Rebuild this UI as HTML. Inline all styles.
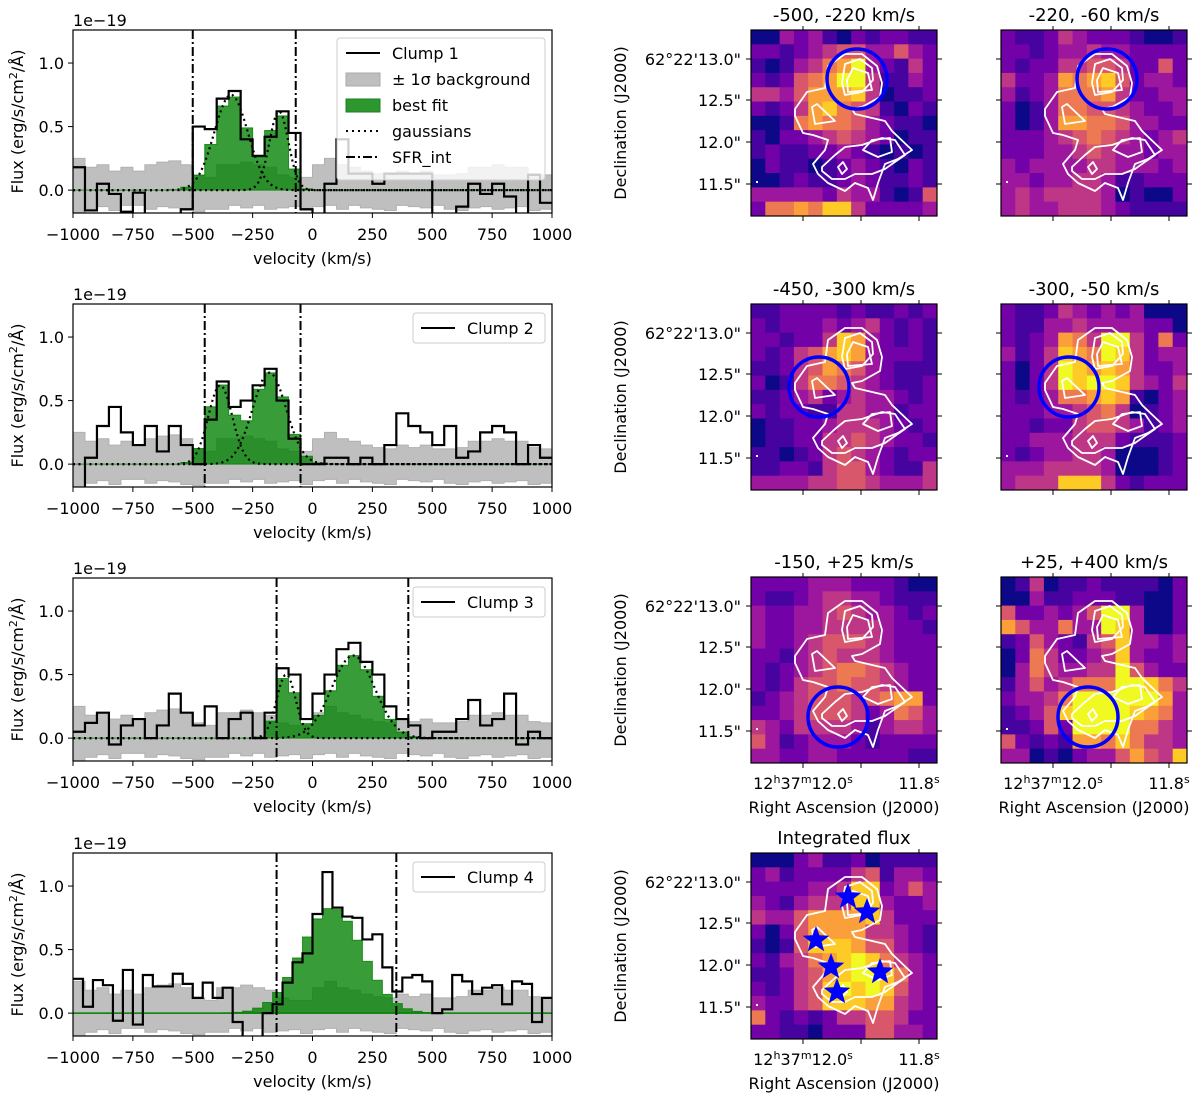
<!DOCTYPE html>
<html><head><meta charset="utf-8">
<style>
body{margin:0;background:#fff;}
svg{display:block;font-family:"DejaVu Sans","Liberation Sans",sans-serif;}
</style></head>
<body>
<svg id="fig" width="1200" height="1099" viewBox="0 0 1200 1099" xmlns="http://www.w3.org/2000/svg"></svg>
<script>
// ---- spectra data ----
const velMin = -1000, velMax = 1000;
const clump1Flux = [0.18,-0.16,0.05,-0.03,-0.17,-0.02,-0.2,-0.2,-0.2,-0.15,0.5,0.48,0.72,0.78,0.4,0.27,0.42,0.62,0.45,-0.15,-0.2,0.05,0.4,0.13,0.13,0.05,0.13,0.13,0.13,0.13,-0.2,-0.2,-0.13,0.05,-0.03,0.05,-0.05,-0.2,0.12,-0.1];
const clump2Flux = [-0.2,0.05,0.3,0.45,0.25,0.15,0.3,0.1,0.3,0.15,0.0,0.35,0.65,0.45,0.5,0.62,0.75,0.5,0.2,0.0,0.0,0.05,0.05,0.0,0.05,0.0,0.15,0.4,0.3,0.25,0.15,0.3,0.05,0.1,0.25,0.3,0.25,0.0,0.15,0.05];
const clump3Flux = [0.05,0.12,0.2,-0.05,0.1,0.15,0.0,0.1,0.35,0.2,0.1,0.25,0.0,0.15,0.2,0.0,0.2,0.55,0.5,0.15,0.35,0.5,0.7,0.75,0.6,0.5,0.25,0.15,0.1,0.0,0.05,0.05,0.15,0.3,0.1,0.15,0.35,-0.05,0.05,0.0];
const clump4Flux = [0.27,0.05,0.26,0.22,-0.06,0.34,-0.09,0.3,0.21,0.21,0.31,0.23,0.12,0.24,0.12,0.2,-0.07,-0.25,-0.25,0.0,0.07,0.24,0.4,0.47,0.78,1.11,0.83,0.76,0.75,0.58,0.62,0.36,0.17,0.28,0.3,0.25,0.0,0.03,0.3,0.25,0.15,0.2,0.22,0.07,0.25,0.23,-0.07,0.12];
const bgUpper = [0.25,0.18,0.2,0.15,0.18,0.15,0.2,0.22,0.23,0.2,0.12,0.1,0.2,0.2,0.22,0.2,0.18,0.12,0.1,0.1,0.2,0.25,0.2,0.18,0.15,0.13,0.12,0.15,0.13,0.15,0.12,0.12,0.13,0.18,0.18,0.2,0.18,0.18,0.13,0.12];
const bgLower = [-0.2,-0.15,-0.13,-0.16,-0.12,-0.12,-0.15,-0.13,-0.14,-0.16,-0.17,-0.15,-0.15,-0.12,-0.14,-0.12,-0.15,-0.14,-0.13,-0.16,-0.13,-0.12,-0.15,-0.12,-0.14,-0.15,-0.16,-0.12,-0.13,-0.14,-0.12,-0.15,-0.16,-0.14,-0.13,-0.15,-0.14,-0.13,-0.16,-0.15];
// gaussian components: [amp, center, sigma]
const clump1Gauss = [[0.75,-340,70],[0.62,-140,40]];
const clump2Gauss = [[0.62,-385,50],[0.72,-180,70]];
const clump3Gauss = [[0.5,-110,40],[0.65,170,90]];
const clump4Gauss = [[0.83,80,125]];
const sfrLimits = [[-500,-70],[-450,-50],[-150,400],[-150,350]];
const clumpNames = ["Clump 1","Clump 2","Clump 3","Clump 4"];
const xTicks = [-1000,-750,-500,-250,0,250,500,750,1000];
const yTicks = [0.0,0.5,1.0];

// ---- map data (13x13, plasma levels 0-9) ----
const mapTitles = ["-500, -220 km/s","-220, -60 km/s","-450, -300 km/s","-300, -50 km/s","-150, +25 km/s","+25, +400 km/s","Integrated flux"];
const map1 = ["0032310212211","2212345533532","1013467932142","2125679941132","4435777840112","2124786541021","0016766532110","1022345432011","1211223210101","0211012321021","0012112321121","3333324331015","2667688422223"];
const map2 = ["2112432221001","2212334332222","2122445542252","4223767852332","3123666742233","2013665543223","2013776653322","2223456543234","2223345433233","3233334433323","3323344311222","3434444301002","3433444321111"];
const map3 = ["1122221211212","2122232342121","2212248732121","2124578732221","1124576532111","2014665432112","1123423433212","2122114433122","0112234443212","0112244543221","1101245432122","1122145532114","3333445543334"];
const map4 = ["2112432323000","2113343333220","2123764994262","3124876984233","2024987874223","2024989984324","2123667871023","2223345640123","2212245543123","2233344421112","2123344300012","3334444300012","3444888421222"];
const map5 = ["2222333222100","2112344332111","3223345433212","3223344443221","3223455543222","2213454443222","2123456654322","2124556554322","1234555456772","2234555423653","4324444313443","5312333212222","3322332222211"];
const map6 = ["0140112111102","0031122211002","5223235993002","7533633983002","1253214583323","0264223483223","0364334495322","1353466699864","2334699999973","1235899998763","1125299996643","5212177686443","3301023357548"];
const map7 = ["0002311201111","2312222451332","2222334882353","3213444883223","4335777784222","2025777744321","1015888755321","2134678986432","1124578998632","2124589898532","3224588877432","6212124455422","2211022255332"];
const circleCenters = [[106,49],[106,49],[68,83],[68,83],[87,140],[87,140]];
const starPositions = [[97,44],[116,59],[65,87],[80,114],[129,119],[86,139]];
const decTicks = ['62°22\'13.0"','12.5"','12.0"','11.5"'];
const decTickPos = [29,70,112,154];
const raTickPos = [52,110,168];

const NS="http://www.w3.org/2000/svg";
const svg=document.getElementById('fig');
function el(tag,attrs,parent){const e=document.createElementNS(NS,tag);for(const k in attrs)e.setAttribute(k,attrs[k]);(parent||svg).appendChild(e);return e;}
function txt(s,attrs,parent){const t=el('text',attrs,parent);t.textContent=s;return t;}

// ---- spectra ----
const SX0=73,SX1=552,SH=183,YMIN=-0.18,YMAX=1.26;
const specTops=[30,304,578,853];
const fluxes=[clump1Flux,clump2Flux,clump3Flux,clump4Flux];
const gausses=[clump1Gauss,clump2Gauss,clump3Gauss,clump4Gauss];
function sx(v){return SX0+(v-velMin)/(velMax-velMin)*(SX1-SX0);}
function gval(g,v){return g[0]*Math.exp(-0.5*Math.pow((v-g[1])/g[2],2));}
function stepPath(vals,ys){
  const n=vals.length,w=(velMax-velMin)/n;let d='';
  for(let i=0;i<n;i++){const a=sx(velMin+i*w),b=sx(velMin+(i+1)*w),y=ys(vals[i]);d+=(i?'L':'M')+a+','+y+'L'+b+','+y;}
  return d;
}
for(let p=0;p<4;p++){
  const top=specTops[p];
  const sy=v=>top+(YMAX-v)/(YMAX-YMIN)*SH;
  const g=el('g',{},svg);
  
  
  const cid='clip'+p;
  const cp=el('clipPath',{id:cid},g);el('rect',{x:SX0,y:top,width:SX1-SX0,height:SH},cp);
  const inner=el('g',{'clip-path':'url(#'+cid+')'},g);
  let up=stepPath(bgUpper,sy),n=bgLower.length,w=(velMax-velMin)/n,lo='';
  for(let i=n-1;i>=0;i--){const a=sx(velMin+(i+1)*w),b=sx(velMin+i*w),y=sy(bgLower[i]);lo+='L'+a+','+y+'L'+b+','+y;}
  const band=el('path',{d:up+lo+'Z',fill:'#bfbfbf',stroke:'#b0b0b0','stroke-width':1},inner);
  
  
  const nb=fluxes[p].length,bw=(velMax-velMin)/nb,fit=[];
  for(let i=0;i<nb;i++){const v=velMin+(i+0.5)*bw;let s=0;gausses[p].forEach(q=>s+=gval(q,v));fit.push(s);}
  let fd=stepPath(fit,sy);fd+='L'+sx(velMax)+','+sy(0)+'L'+sx(velMin)+','+sy(0)+'Z';
  const fitEl=el('path',{d:fd,fill:'#008000','fill-opacity':0.78,stroke:'#008000','stroke-opacity':0.8,'stroke-width':1},inner);
  
  
  if(p<3){
    gausses[p].forEach((q,k)=>{let d='';for(let v=velMin;v<=velMax;v+=5){d+=(v==velMin?'M':'L')+sx(v)+','+sy(gval(q,v));}
      const ge=el('path',{d:d,fill:'none',stroke:'#000','stroke-width':2.2,'stroke-dasharray':'2,3.5'},inner);
      
      });
  } else {
    el('line',{x1:SX0,x2:SX1,y1:sy(0),y2:sy(0),stroke:'#008000','stroke-width':1.5},inner);
  }
  const dl=el('path',{d:stepPath(fluxes[p],sy),fill:'none',stroke:'#000','stroke-width':2.2},inner);
  
  
  sfrLimits[p].forEach(v=>{const l=el('line',{x1:sx(v),x2:sx(v),y1:top,y2:top+SH,stroke:'#000','stroke-width':2,'stroke-dasharray':'9,3,2,3'},inner);
    
    });
  el('rect',{x:SX0,y:top,width:SX1-SX0,height:SH,fill:'none',stroke:'#000','stroke-width':1.2},g);
  xTicks.forEach(v=>{el('line',{x1:sx(v),x2:sx(v),y1:top+SH,y2:top+SH+5,stroke:'#000'},g);
    const t=txt(String(v).replace('-','\u2212'),{x:sx(v),y:top+SH+27,'text-anchor':'middle','font-size':16},g);
    
    });
  yTicks.forEach(v=>{el('line',{x1:SX0-5,x2:SX0,y1:sy(v),y2:sy(v),stroke:'#000'},g);
    const t=txt(v.toFixed(1),{x:SX0-9,y:sy(v)+6,'text-anchor':'end','font-size':16},g);
    
    });
  const xt=txt('velocity (km/s)',{x:(SX0+SX1)/2,y:top+SH+51,'text-anchor':'middle','font-size':16},g);
  
  
  const off=txt('1e\u221219',{x:SX0,y:top-4,'font-size':16},g);
  
  
  const yt=el('text',{x:0,y:0,'text-anchor':'middle','font-size':16,transform:'translate(23,'+(top+SH/2)+') rotate(-90)'},g);
  yt.innerHTML='Flux (erg/s/cm<tspan dy="-6" font-size="11">2</tspan><tspan dy="6">/Å)</tspan>';
  
  
  const lg=el('g',{},g);
  
  
  if(p==0){
    el('rect',{x:337,y:38,width:208,height:142,rx:3,fill:'#fff','fill-opacity':0.8,stroke:'#ccc'},lg);
    const ys=[53,79,105,131,157];
    el('line',{x1:346,x2:380,y1:ys[0],y2:ys[0],stroke:'#000','stroke-width':2},lg);
    el('rect',{x:346,y:ys[1]-6,width:34,height:13,fill:'#bfbfbf',stroke:'#aaa'},lg);
    el('rect',{x:346,y:ys[2]-6,width:34,height:13,fill:'#2e962e',stroke:'#1f7f1f'},lg);
    el('line',{x1:346,x2:380,y1:ys[3],y2:ys[3],stroke:'#000','stroke-width':2,'stroke-dasharray':'2,4'},lg);
    el('line',{x1:346,x2:380,y1:ys[4],y2:ys[4],stroke:'#000','stroke-width':2,'stroke-dasharray':'9,3,2,3'},lg);
    const labs=['Clump 1','± 1σ background','best fit','gaussians','SFR_int'];
    labs.forEach((s,i)=>{const t=txt(s,{x:392,y:ys[i]+6,'font-size':16},lg);
      
      });
  } else {
    const ly=top+24;
    el('rect',{x:413,y:top+9,width:132,height:30,rx:3,fill:'#fff','fill-opacity':0.8,stroke:'#ccc'},lg);
    el('line',{x1:421,x2:455,y1:ly,y2:ly,stroke:'#000','stroke-width':2},lg);
    const t=txt(clumpNames[p],{x:467,y:ly+6,'font-size':16},lg);
    
    
  }
}

// ---- maps ----
const plasma=['#0d0887','#46039f','#7201a8','#9c179e','#bd3786','#d8576b','#ed7953','#fb9f3a','#fdca26','#f0f921'];
const maps=[map1,map2,map3,map4,map5,map6,map7];
const mapPos=[[751,30],[1001,30],[751,304],[1001,304],[751,577],[1001,577],[751,853]];
const S=186,N=13,C=S/N;
const outer="44,79 56,62 74,58 77,36 94,24 111,24 126,36 131,53 129,67 111,77 101,79 104,84 134,91 141,101 161,120 147,129 134,134 127,153 122,170 117,158 104,153 94,161 77,153 67,144 62,134 74,120 77,110 62,105 52,103 44,86";
const contourShapes=[outer,"94,34 109,29 121,38 122,50 111,62 94,65 91,53","71,137 84,125 94,117 111,115 131,108 144,110 154,125 141,134 134,139 121,144 104,144 94,149 81,149 71,141","61,77 66,74 84,91 64,94","96,50 102,38 117,43 121,60 97,62","112,120 121,110 139,108 141,122 127,127","87,137 92,132 96,139 91,144"];
function starPts(cx,cy,r){let s='';for(let i=0;i<10;i++){const a=-Math.PI/2+i*Math.PI/5,rr=i%2?r*0.42:r;s+=(cx+rr*Math.cos(a)).toFixed(1)+','+(cy+rr*Math.sin(a)).toFixed(1)+' ';}return s;}
maps.forEach((m,k)=>{
  const [X,Y]=mapPos[k];
  const g=el('g',{transform:'translate('+X+','+Y+')'},svg);
  
  
  for(let r=0;r<N;r++)for(let c=0;c<N;c++){
    const v=+m[r][c];
    const cell=el('rect',{x:(c*C).toFixed(2),y:(r*C).toFixed(2),width:(C+0.4).toFixed(2),height:(C+0.4).toFixed(2),fill:plasma[v]},g);
    
    
  }
  const cg=el('g',{fill:'none',stroke:'#fff','stroke-width':1.8,'stroke-linejoin':'round'},g);
  
  
  contourShapes.forEach(s=>el('polygon',{points:s},cg));
  el('rect',{x:5,y:151,width:2,height:2,fill:'#fff'},g);
  if(k<6){
    const ci=el('circle',{cx:circleCenters[k][0],cy:circleCenters[k][1],r:30,fill:'none',stroke:'#0000ff','stroke-width':3.5},g);
    
    
  } else {
    starPositions.forEach(p=>{const st=el('polygon',{points:starPts(p[0],p[1],14),fill:'#0000ff'},g);
      
      });
  }
  el('rect',{x:0,y:0,width:S,height:S,fill:'none',stroke:'#000','stroke-width':1.2},g);
  decTickPos.forEach(y=>{el('line',{x1:-5,x2:0,y1:y,y2:y,stroke:'#000'},g);el('line',{x1:S,x2:S+5,y1:y,y2:y,stroke:'#000'},g);});
  raTickPos.forEach(x=>{el('line',{x1:x,x2:x,y1:S,y2:S+5,stroke:'#000'},g);el('line',{x1:x,x2:x,y1:0,y2:-4,stroke:'#000'},g);});
  const tt=txt(mapTitles[k],{x:S/2,y:-9,'text-anchor':'middle','font-size':18},g);
  
  
  if(X<800){
    decTicks.forEach((s,i)=>{const t=txt(s,{x:-10,y:decTickPos[i]+6,'text-anchor':'end','font-size':16},g);
      
      });
    const dt=txt('Declination (J2000)',{x:0,y:0,'text-anchor':'middle','font-size':16,transform:'translate(-125,'+(S/2)+') rotate(-90)'},g);
    
    
  }
  if(k>=4){
    const l1=el('text',{x:raTickPos[0],y:S+26,'text-anchor':'middle','font-size':16},g);
    l1.innerHTML='12<tspan dy="-6" font-size="11">h</tspan><tspan dy="6">37</tspan><tspan dy="-6" font-size="11">m</tspan><tspan dy="6">12.0</tspan><tspan dy="-6" font-size="11">s</tspan>';
    
    
    const l2=el('text',{x:raTickPos[2],y:S+26,'text-anchor':'middle','font-size':16},g);
    l2.innerHTML='11.8<tspan dy="-6" font-size="11">s</tspan>';
    
    
    const rt=txt('Right Ascension (J2000)',{x:S/2,y:S+50,'text-anchor':'middle','font-size':16},g);
    
    
  }
});
</script>
</body></html>
